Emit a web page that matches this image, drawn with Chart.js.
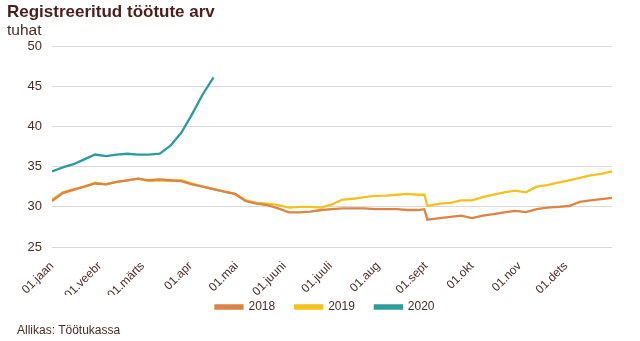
<!DOCTYPE html>
<html>
<head>
<meta charset="utf-8">
<script src="https://cdn.jsdelivr.net/npm/chart.js@4"></script>
<style>
  body { margin: 0; background: #fff; font-family: "Liberation Sans", Arial, sans-serif; }
  #wrap { position: relative; width: 640px; height: 341px; }
  .txt { position: absolute; color: #4a2a24; white-space: nowrap; }
  #title { left: 7px; top: 2px; font-size: 17px; font-weight: bold; color: #4b1d1d; }
  #unit { left: 7px; top: 21px; font-size: 15.5px; }
  #source { left: 17px; top: 323px; font-size: 12px; }
</style>
</head>
<body>
<div id="wrap">
  <canvas id="chart" width="640" height="341"></canvas>
  <div class="txt" id="title">Registreeritud töötute arv</div>
  <div class="txt" id="unit">tuhat</div>
  <div class="txt" id="source">Allikas: Töötukassa</div>
</div>
<script>
/* data (day of year, thousands) */
const days = [0, 7, 14, 21, 28, 35, 42, 49, 56, 63, 70, 77, 84, 91, 98, 105,
  112, 119, 126, 133, 140, 147, 154, 161, 168, 175, 182, 189, 196, 203, 210,
  217, 224, 231, 238, 242, 244, 252, 259, 266, 273, 280, 287, 294, 301, 308,
  315, 322, 329, 336, 343, 350, 357, 364];

const values2018 = [30.7, 31.7, 32.1, 32.5, 32.9, 32.8, 33.1, 33.3, 33.5, 33.3, 33.4, 33.3, 33.2, 32.8, 32.5, 32.2,
  31.9, 31.6, 30.7, 30.4, 30.2, 29.8, 29.3, 29.3, 29.4, 29.6, 29.7, 29.8, 29.8, 29.8, 29.7,
  29.7, 29.7, 29.6, 29.6, 29.7, 28.4, 28.6, 28.75, 28.9, 28.6, 28.9, 29.1, 29.3, 29.5, 29.35,
  29.7, 29.9, 30.0, 30.1, 30.6, 30.8, 30.95, 31.1];

const values2019 = [30.9, 31.8, 32.2, 32.5, 33.0, 32.8, 33.1, 33.3, 33.5, 33.2, 33.3, 33.2, 33.3, 32.9, 32.5, 32.2,
  31.9, 31.6, 30.8, 30.5, 30.4, 30.2, 29.9, 30.0, 30.0, 29.9, 30.3, 30.9, 31.0, 31.2, 31.35,
  31.4, 31.5, 31.6, 31.5, 31.5, 30.1, 30.4, 30.5, 30.8, 30.8, 31.2, 31.5, 31.8, 32.0, 31.8,
  32.5, 32.7, 33.0, 33.3, 33.6, 33.9, 34.1, 34.4];

const values2020 = [34.4, 34.9, 35.3, 35.9, 36.5, 36.3, 36.5, 36.6, 36.5, 36.5, 36.6, 37.6, 39.2, 41.5, 44.0, 46.1];

const monthDays = [0, 31, 59, 90, 120, 151, 181, 212, 243, 273, 304, 334];
const monthLabels = ["01.jaan", "01.veebr", "01.märts", "01.apr", "01.mai", "01.juuni",
  "01.juuli", "01.aug", "01.sept", "01.okt", "01.nov", "01.dets"];

const seriesNames = ["2018", "2019", "2020"];
const seriesColors = ["#DB8446", "#F3C220", "#2E9A9C"];

function toPoints(vals){
  return vals.map((v, i) => ({x: days[i], y: v}));
}

const allValues = [values2018, values2019, values2020];
const textColor = "#4a2a24";

// pull the legend up, closer to the rotated month labels, and a bit right
const legendNudge = {
  id: 'legendNudge',
  afterLayout(chart){
    const lg = chart.legend;
    if (lg){
      lg.top -= 14;
      lg.bottom -= 14;
      lg.left += 19;
      lg.right += 19;
    }
  }
};

new Chart(document.getElementById("chart").getContext("2d"), {
  type: 'line',
  data: {
    datasets: allValues.map((vals, i) => ({
      label: seriesNames[i],
      data: toPoints(vals),
      borderColor: seriesColors[i],
      backgroundColor: seriesColors[i],
      borderWidth: 2.3,
      pointRadius: 0,
      tension: 0
    }))
  },
  plugins: [legendNudge],
  options: {
    responsive: false,
    animation: false,
    layout: { padding: { left: 0, right: 28, top: 46, bottom: 4 } },
    plugins: {
      legend: {
        position: 'bottom',
        labels: {
          boxWidth: 27,
          boxHeight: 3,
          padding: 20,
          color: textColor,
          font: { family: "Liberation Sans", size: 12 }
        }
      },
      tooltip: { enabled: false }
    },
    scales: {
      x: {
        type: 'linear',
        min: 0,
        max: 364,
        grid: { display: false },
        border: { display: false },
        afterBuildTicks(scale){
          scale.ticks = monthDays.map(d => ({value: d}));
        },
        afterFit(scale){
          scale.height = 48;
        },
        ticks: {
          autoSkip: false,
          minRotation: 45,
          maxRotation: 45,
          padding: 4,
          color: textColor,
          font: { family: "Liberation Sans", size: 12 },
          callback: (v) => monthLabels[monthDays.indexOf(v)]
        }
      },
      y: {
        min: 25,
        max: 50,
        ticks: {
          stepSize: 5,
          padding: 10,
          color: textColor,
          font: { family: "Liberation Sans", size: 13 }
        },
        grid: { color: "#d9d9d9", drawTicks: false, lineWidth: 1 },
        border: { display: false },
        afterFit(scale){
          scale.width = 52;
        }
      }
    }
  }
});
</script>
</body>
</html>
